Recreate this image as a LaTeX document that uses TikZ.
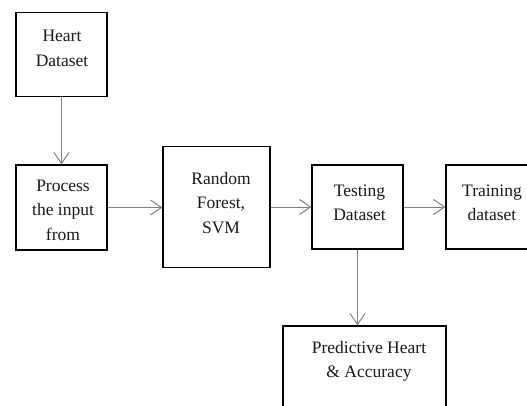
\documentclass[tikz,border=0pt]{standalone}
\usepackage{fontspec}
\setmainfont{Liberation Serif}
\usetikzlibrary{arrows.meta}
\begin{document}
\begin{tikzpicture}[x=1pt,y=-1pt,
  box/.style={draw=black, line width=1.2pt, fill=white, inner sep=0pt},
  lbl/.style={align=center, inner sep=0pt, font=\fontsize{17.5}{24.5}\selectfont, text=black!90},
  flow/.style={draw=black!50, line width=1pt, -{Straight Barb[length=11pt,width=15pt,line width=1pt]}}]
\useasboundingbox (0,0) rectangle (527,406);
\clip (0,0) rectangle (527,406);
\fill[white] (0,0) rectangle (527,406);
\node[box, minimum width=91pt, minimum height=84pt] (heart) at (61.5,54.5) {};
\node[box, minimum width=91pt, minimum height=85pt] (process) at (61.5,207.5) {};
\node[box, minimum width=107pt, minimum height=121pt] (rf) at (216.5,207) {};
\node[box, minimum width=91pt, minimum height=84pt] (testing) at (357.5,207) {};
\node[box, minimum width=92pt, minimum height=84pt] (training) at (492,207) {};
\node[box, minimum width=163pt, minimum height=84pt] (pred) at (364.5,368) {};
\node[lbl] (heart-t) at (62,48.5) {Heart\\Dataset};
\node[lbl] (process-t) at (63,210) {Process\\the input\\from};
\node[lbl] (rf-t) at (221,203) {Random\\Forest,\\SVM};
\node[lbl] (testing-t) at (359.5,203) {Testing\\Dataset};
\node[lbl] (training-t) at (492,203) {Training\\dataset};
\node[lbl] (pred-t) at (369,361.5) {Predictive Heart\\\& Accuracy};
\draw[flow] (heart.south) -- (process.north);
\draw[flow] (process.east) -- (rf.west |- process.east);
\draw[flow] (rf.east |- testing.west) -- (testing.west);
\draw[flow] (testing.east) -- (training.west);
\draw[flow] (testing.south) -- (testing.south |- pred.north);
\end{tikzpicture}
\end{document}
